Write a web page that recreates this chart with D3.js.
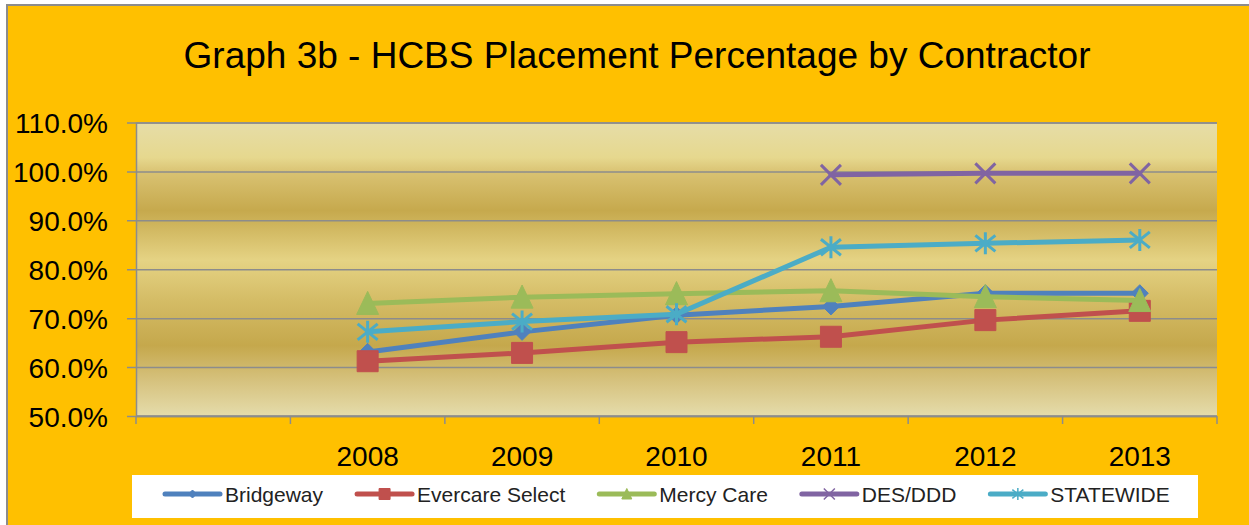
<!DOCTYPE html>
<html>
<head>
<meta charset="utf-8">
<script src="https://cdn.jsdelivr.net/npm/d3@7"></script>
<style>
  body { margin: 0; background: #fff; }
  text { font-family: Arial, "Liberation Sans", sans-serif; }
</style>
</head>
<body>
<svg id="chart" width="1249" height="525"></svg>
<script>
// chart data (percent)
const categories = ["", "2008", "2009", "2010", "2011", "2012", "2013"];
const bridgeway = [null, 63.1, 67.2, 70.6, 72.4, 75.1, 75.1];
const evercare = [null, 61.2, 62.9, 65.1, 66.2, 69.6, 71.5];
const mercyCare = [null, 73.0, 74.3, 75.0, 75.6, 74.4, 73.6];
const desDdd = [null, null, null, null, 99.3, 99.6, 99.6];
const statewide = [null, 67.2, 69.3, 70.8, 84.5, 85.3, 86.0];
const yTicks = [50, 60, 70, 80, 90, 100, 110];

const series = [
  { name: "Bridgeway", values: bridgeway, color: "#4F81BD", marker: "diamond" },
  { name: "Evercare Select", values: evercare, color: "#C0504D", marker: "square" },
  { name: "Mercy Care", values: mercyCare, color: "#9BBB59", marker: "triangle" },
  { name: "DES/DDD", values: desDdd, color: "#8064A2", marker: "x" },
  { name: "STATEWIDE", values: statewide, color: "#4BACC6", marker: "star" }
];

const svg = d3.select("#chart");
const W = 1249, H = 525;
const plot = { left: 136, right: 1217, top: 122.5, bottom: 416 };

// outer chart area
svg.append("rect")
  .attr("x", 7).attr("y", 5)
  .attr("width", W + 10).attr("height", H + 10)
  .attr("fill", "#FFC000")
  .attr("stroke", "#8C8C8C")
  .attr("stroke-width", 2);

// title
svg.append("text")
  .attr("x", 637).attr("y", 68)
  .attr("text-anchor", "middle")
  .attr("font-size", 37)
  .attr("fill", "#000")
  .text("Graph 3b - HCBS Placement Percentage by Contractor");

// scales
const x = d3.scaleBand().domain(categories).range([plot.left, plot.right]).padding(0);
const y = d3.scaleLinear().domain([50, 110]).range([plot.bottom, plot.top]);
const cx = c => x(c) + x.bandwidth() / 2;

// plot area gradient (banded gold)
const defs = svg.append("defs");
const grad = defs.append("linearGradient")
  .attr("id", "gold").attr("x1", 0).attr("y1", 0).attr("x2", 0).attr("y2", 1);
[
  [0, "#E6DDA8"], [0.12, "#E6D88E"], [0.17, "#D9C272"], [0.30, "#C6A94D"],
  [0.47, "#E5D384"], [0.60, "#D5BD67"], [0.76, "#C5A84C"], [0.88, "#D6C27E"], [1, "#E5DCAB"]
].forEach(s => grad.append("stop").attr("offset", s[0]).attr("stop-color", s[1]));

svg.append("rect")
  .attr("x", plot.left).attr("y", plot.top)
  .attr("width", plot.right - plot.left).attr("height", plot.bottom - plot.top)
  .attr("fill", "url(#gold)");

// gridlines + y axis
const yAxis = d3.axisLeft(y)
  .tickValues(yTicks)
  .tickSize(-(plot.right - plot.left))
  .tickPadding(28)
  .tickFormat(d => d.toFixed(1) + "%");

const gy = svg.append("g")
  .attr("transform", `translate(${plot.left},0)`)
  .call(yAxis);
gy.select(".domain").attr("stroke", "#8C8C8C").attr("stroke-width", 1.5);
gy.selectAll(".tick line").attr("stroke", "#8C8C8C").attr("stroke-width", 1.5).attr("x1", -9);
gy.selectAll(".tick text")
  .attr("font-size", 28)
  .attr("fill", "#000")
  .attr("x", -28)
  .attr("dy", "0.36em");

// x axis: ticks on category boundaries, labels centred
const gx = svg.append("g").attr("transform", `translate(0,${plot.bottom})`);
gx.append("line")
  .attr("x1", plot.left).attr("x2", plot.right)
  .attr("stroke", "#8C8C8C").attr("stroke-width", 1.5);
const bounds = categories.map(c => x(c)).concat([x(categories[categories.length - 1]) + x.bandwidth()]);
gx.selectAll(".bound").data(bounds).enter().append("line")
  .attr("class", "bound")
  .attr("x1", d => d).attr("x2", d => d)
  .attr("y1", 0).attr("y2", 8)
  .attr("stroke", "#8C8C8C").attr("stroke-width", 1.5);
gx.selectAll(".lbl").data(categories).enter().append("text")
  .attr("class", "lbl")
  .attr("x", d => cx(d)).attr("y", 50)
  .attr("text-anchor", "middle")
  .attr("font-size", 28)
  .attr("fill", "#000")
  .text(d => d);

// marker shapes
function markerPath(type, s) {
  switch (type) {
    case "diamond": return `M0,${-s}L${s},0L0,${s}L${-s},0Z`;
    case "square": return `M${-s},${-s}H${s}V${s}H${-s}Z`;
    case "triangle": return `M0,${-s * 1.1}L${s},${s}L${-s},${s}Z`;
    case "x": return `M${-s},${-s}L${s},${s}M${-s},${s}L${s},${-s}`;
    case "star": return `M${-s},${-s * 0.8}L${s},${s * 0.8}M${-s},${s * 0.8}L${s},${-s * 0.8}M0,${-s * 1.1}V${s * 1.1}`;
  }
}
const markerSize = { diamond: 8.5, square: 10.5, triangle: 11, x: 10, star: 10 };
const legendSize = { diamond: 4, square: 5.5, triangle: 5, x: 5.5, star: 5.5 };
const isLineMarker = t => t === "x" || t === "star";

const line = d3.line()
  .defined(d => d.v != null)
  .x(d => cx(d.c))
  .y(d => y(d.v));

series.forEach(s => {
  const pts = categories.map((c, i) => ({ c: c, v: s.values[i] }));
  const g = svg.append("g").attr("class", "series");
  g.append("path")
    .datum(pts)
    .attr("d", line)
    .attr("fill", "none")
    .attr("stroke", s.color)
    .attr("stroke-width", 5)
    .attr("stroke-linejoin", "round")
    .attr("stroke-linecap", "round");
  g.selectAll(".mk").data(pts.filter(d => d.v != null)).enter().append("path")
    .attr("class", "mk")
    .attr("transform", d => `translate(${cx(d.c)},${y(d.v)})`)
    .attr("d", markerPath(s.marker, markerSize[s.marker]))
    .attr("fill", isLineMarker(s.marker) ? "none" : s.color)
    .attr("stroke", s.color)
    .attr("stroke-width", isLineMarker(s.marker) ? 3 : 1);
});

// legend
const legend = svg.append("g");
legend.append("rect")
  .attr("x", 132).attr("y", 475)
  .attr("width", 1198 - 132).attr("height", 43)
  .attr("fill", "#fff");

let lx = 165;
const ly = 494;
series.forEach(s => {
  const item = legend.append("g");
  item.append("line")
    .attr("x1", lx).attr("x2", lx + 55)
    .attr("y1", ly).attr("y2", ly)
    .attr("stroke", s.color).attr("stroke-width", 5)
    .attr("stroke-linecap", "round");
  item.append("path")
    .attr("transform", `translate(${lx + 27.5},${ly})`)
    .attr("d", markerPath(s.marker, legendSize[s.marker]))
    .attr("fill", isLineMarker(s.marker) ? "none" : s.color)
    .attr("stroke", s.color)
    .attr("stroke-width", isLineMarker(s.marker) ? 1.5 : 1);
  const t = item.append("text")
    .attr("x", lx + 60).attr("y", ly + 8)
    .attr("font-size", 21)
    .attr("fill", "#222")
    .text(s.name);
  lx += 60 + t.node().getComputedTextLength() + 34;
});
</script>
</body>
</html>
